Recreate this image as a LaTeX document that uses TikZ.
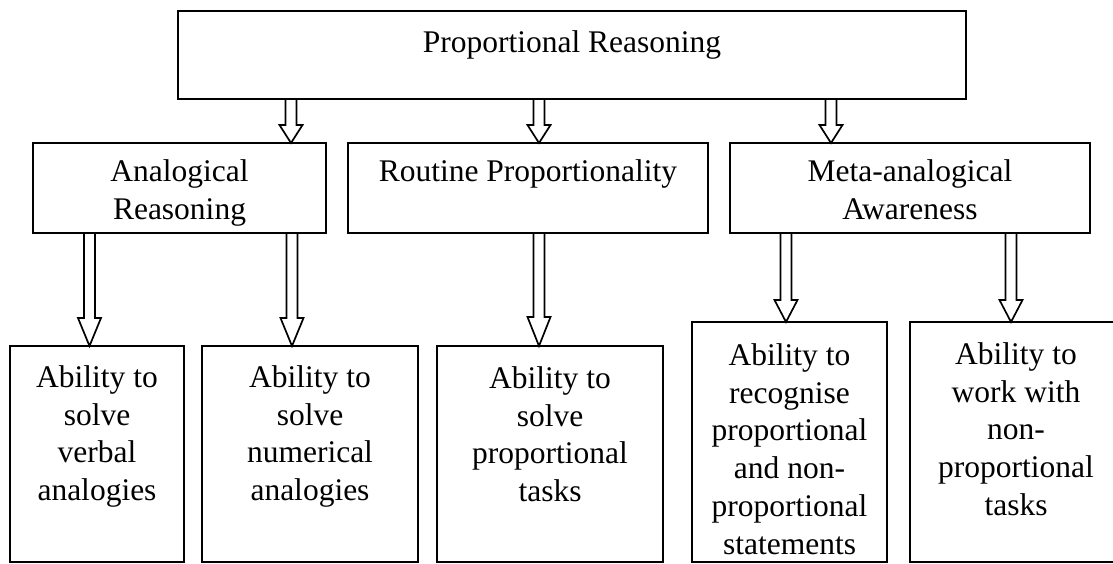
\documentclass[tikz,border=0pt]{standalone}
\usepackage{fontspec}
\setmainfont{Liberation Serif}
\usetikzlibrary{calc}
\tikzset{
  box/.style={draw, line width=1.8pt, rectangle, inner sep=0pt, outer sep=0pt, anchor=north west},
  lbl/.style={align=center, inner sep=0pt, font=\fontsize{31.5}{37.7}\selectfont},
  blockarr/.style={line width=1.7pt, line join=miter}
}
\newcommand\blockarrow[4]{%
  \draw[blockarr] let \p1=(#1 |- #2.south), \p2=(#1 |- #3.north) in
  (\x1-5.5pt,\y1) -- (\x1-5.5pt,\y2+#4) -- (\x1-11.5pt,\y2+#4) -- (\x1,\y2)
  -- (\x1+11.5pt,\y2+#4) -- (\x1+5.5pt,\y2+#4) -- (\x1+5.5pt,\y1);}
\begin{document}
\begin{tikzpicture}[x=1pt,y=-1pt]
\useasboundingbox (0,0) rectangle (1113,563);
\clip (0,0) rectangle (1113,563);
% boxes
\node[box, minimum width=788, minimum height=88] (top) at (178,11) {};
\node[box, minimum width=293, minimum height=90] (ana) at (33,143) {};
\node[box, minimum width=360, minimum height=90] (rou) at (348,143) {};
\node[box, minimum width=360, minimum height=90] (meta) at (730,143) {};
\node[box, minimum width=174, minimum height=216] (b1) at (10,346) {};
\node[box, minimum width=216, minimum height=216] (b2) at (202,346) {};
\node[box, minimum width=226, minimum height=216] (b3) at (437,346) {};
\node[box, minimum width=195, minimum height=240] (b4) at (692,322) {};
\node[box, minimum width=212, minimum height=240] (b5) at (910,322) {};
% texts
\node[lbl, anchor=base] (ttop) at (572,52) {Proportional Reasoning};
\node[lbl, anchor=north] (tana) at (179.5,159.5) {Analogical\\Reasoning};
\node[lbl, anchor=base] (trou) at (528,181) {Routine Proportionality};
\node[lbl, anchor=north] (tmeta) at (910,159.5) {Meta-analogical\\Awareness};
\node[lbl, anchor=north] (tb1) at (97,365.5) {Ability to\\solve\\verbal\\analogies};
\node[lbl, anchor=north] (tb2) at (310,365.5) {Ability to\\solve\\numerical\\analogies};
\node[lbl, anchor=north] (tb3) at (550,366.5) {Ability to\\solve\\proportional\\tasks};
\node[lbl, anchor=north] (tb4) at (789.5,343.5) {Ability to\\recognise\\proportional\\and non-\\proportional\\statements};
\node[lbl, anchor=north] (tb5) at (1016,342.5) {Ability to\\work with\\non-\\proportional\\tasks};
% arrow positions
\coordinate (xa) at (291,0);
\coordinate (xb) at (539,0);
\coordinate (xc) at (831,0);
\coordinate (xd) at (89.5,0);
\coordinate (xe) at (292,0);
\coordinate (xf) at (539,0);
\coordinate (xg) at (786,0);
\coordinate (xh) at (1011,0);
% arrows
\blockarrow{xa}{top}{ana}{18pt}
\blockarrow{xb}{top}{rou}{18pt}
\blockarrow{xc}{top}{meta}{18pt}
\blockarrow{xd}{ana}{b1}{28pt}
\blockarrow{xe}{ana}{b2}{28pt}
\blockarrow{xf}{rou}{b3}{29pt}
\blockarrow{xg}{meta}{b4}{22pt}
\blockarrow{xh}{meta}{b5}{22pt}
\end{tikzpicture}
\end{document}
